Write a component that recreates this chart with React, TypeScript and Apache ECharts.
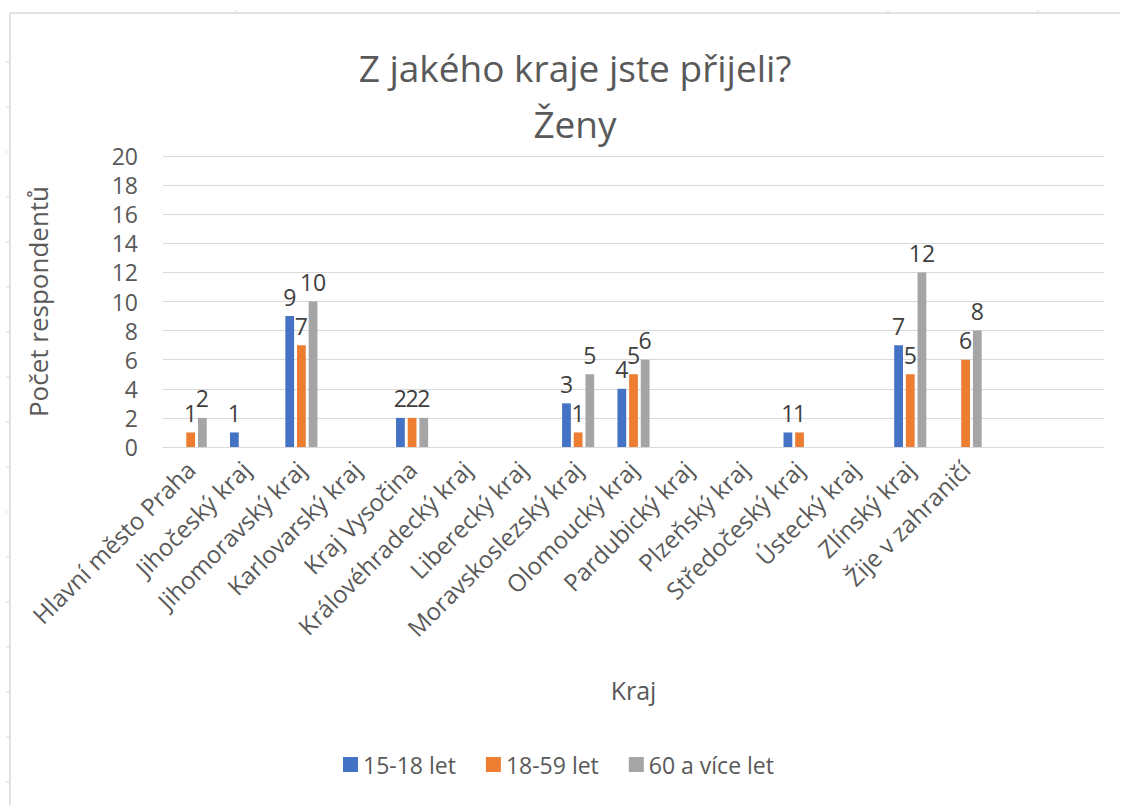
import React, { useEffect, useRef } from "react";
import * as echarts from "echarts";

const categories = [
  "Hlavní město Praha",
  "Jihočeský kraj",
  "Jihomoravský kraj",
  "Karlovarský kraj",
  "Kraj Vysočina",
  "Královéhradecký kraj",
  "Liberecký kraj",
  "Moravskoslezský kraj",
  "Olomoucký kraj",
  "Pardubický kraj",
  "Plzeňský kraj",
  "Středočeský kraj",
  "Ústecký kraj",
  "Zlínský kraj",
  "Žije v zahraničí",
  "",
  "",
];

const seriesNames = ["15-18 let", "18-59 let", "60 a více let"];
const young = [null, 1, 9, null, 2, null, null, 3, 4, null, null, 1, null, 7, null, null, null];
const adult = [1, null, 7, null, 2, null, null, 1, 5, null, null, 1, null, 5, 6, null, null];
const senior = [2, null, 10, null, 2, null, null, 5, 6, null, null, null, null, 12, 8, null, null];
const colors = ["#4472C4", "#ED7D31", "#A5A5A5"];

const yTicks = { min: 0, max: 20, interval: 2 };

const FONT = "'Open Sans', sans-serif";

export default function App() {
  const ref = useRef<HTMLDivElement>(null);

  useEffect(() => {
    if (!ref.current) return;
    const chart = echarts.init(ref.current, null, { renderer: "svg" });
    const data = [young, adult, senior];

    const frameTicks: any[] = [];
    for (let i = 0; i < 17; i++) {
      const y = 62 + i * 45;
      frameTicks.push({
        type: "line",
        shape: { x1: 6, y1: y, x2: 10, y2: y },
        style: { stroke: "#d9d9d9", lineWidth: 1 },
        silent: true,
      });
    }
    [236, 888, 1038].forEach((x) =>
      frameTicks.push({
        type: "line",
        shape: { x1: x, y1: 10, x2: x, y2: 13 },
        style: { stroke: "#d9d9d9", lineWidth: 1 },
        silent: true,
      })
    );

    chart.setOption({
      animation: false,
      backgroundColor: "#ffffff",
      textStyle: { fontFamily: FONT },
      title: [
        {
          text: "Z jakého kraje jste přijeli?",
          left: 570,
          textAlign: "center",
          top: 44,
          textStyle: { fontFamily: FONT, fontSize: 37, fontWeight: "normal", color: "#595959" },
        },
        {
          text: "Ženy",
          left: 570,
          textAlign: "center",
          top: 100,
          textStyle: { fontFamily: FONT, fontSize: 37, fontWeight: "normal", color: "#595959" },
        },
      ],
      legend: {
        data: seriesNames,
        bottom: 24,
        left: 338,
        orient: "horizontal",
        itemWidth: 15,
        itemHeight: 15,
        itemGap: 30,
        icon: "rect",
        textStyle: { fontFamily: FONT, fontSize: 23, color: "#595959" },
      },
      grid: { left: 163, right: 18, top: 156, bottom: 358, containLabel: false },
      xAxis: {
        type: "category",
        data: categories,
        name: "Kraj",
        nameLocation: "middle",
        nameGap: 230,
        nameTextStyle: { fontFamily: FONT, fontSize: 25, color: "#595959" },
        axisLine: { lineStyle: { color: "#d9d9d9" } },
        axisTick: { show: false },
        axisLabel: {
          interval: 0,
          rotate: 45,
          margin: 18,
          fontFamily: FONT,
          fontSize: 24,
          color: "#595959",
        },
      },
      yAxis: {
        type: "value",
        min: yTicks.min,
        max: yTicks.max,
        interval: yTicks.interval,
        name: "Počet respondentů",
        nameLocation: "middle",
        nameGap: 112,
        nameTextStyle: { fontFamily: FONT, fontSize: 26, color: "#595959" },
        axisLine: { show: false },
        axisTick: { show: false },
        axisLabel: { fontFamily: FONT, fontSize: 23, color: "#595959", margin: 25 },
        splitLine: { lineStyle: { color: "#d9d9d9" } },
      },
      series: seriesNames.map((name, i) => ({
        name,
        type: "bar",
        data: data[i],
        barGap: "33%",
        barCategoryGap: "42%",
        itemStyle: { color: colors[i] },
        label: {
          show: true,
          position: "top",
          distance: 8,
          fontFamily: FONT,
          fontSize: 23,
          color: "#404040",
        },
      })),
      graphic: [
        {
          type: "line",
          shape: { x1: 10, y1: 13, x2: 1120, y2: 13 },
          style: { stroke: "#d9d9d9", lineWidth: 1.5 },
          silent: true,
        },
        {
          type: "line",
          shape: { x1: 10, y1: 13, x2: 10, y2: 805 },
          style: { stroke: "#d9d9d9", lineWidth: 1.5 },
          silent: true,
        },
        ...frameTicks,
      ],
    });
    return () => chart.dispose();
  }, []);

  return (
    <div
      ref={ref}
      style={{ position: "fixed", left: 0, top: 0, width: 1122, height: 805, background: "#fff" }}
    />
  );
}
